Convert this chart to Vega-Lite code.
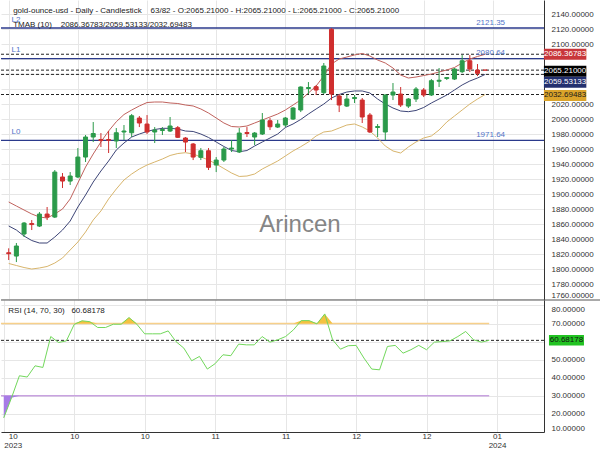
{
  "$schema": "https://vega.github.io/schema/vega-lite/v6.json",
  "padding": 0,
  "autosize": {"type": "pad"},
  "spacing": 0,
  "bounds": "flush",
  "config": {
    "view": {"stroke": null},
    "font": "Liberation Sans",
    "axis": {"labelFont": "Liberation Sans", "labelFontSize": 8, "labelColor": "#333333", "domainColor": "#333333", "gridColor": "#e6e6e6", "ticks": false}
  },
  "datasets": {
    "bars": [
      {"i":0,"d":"2023-10-05","o":1821.7,"h":1827.6,"l":1812.0,"c":1820.4,"up":1889.4,"mid":1857.4,"lo":1807.4,"rsi":17.8},
      {"i":1,"d":"2023-10-06","o":1817.3,"h":1834.7,"l":1809.3,"c":1830.7,"up":1884.0,"mid":1852.0,"lo":1804.7,"rsi":29.0},
      {"i":2,"d":"2023-10-09","o":1846.7,"h":1862.7,"l":1842.7,"c":1861.3,"up":1878.7,"mid":1844.0,"lo":1802.0,"rsi":41.1},
      {"i":3,"d":"2023-10-10","o":1860.7,"h":1865.3,"l":1852.0,"c":1859.3,"up":1873.4,"mid":1838.0,"lo":1800.0,"rsi":40.4},
      {"i":4,"d":"2023-10-11","o":1857.3,"h":1876.0,"l":1856.0,"c":1873.3,"up":1869.4,"mid":1834.7,"lo":1801.4,"rsi":46.6},
      {"i":5,"d":"2023-10-12","o":1873.3,"h":1882.7,"l":1865.3,"c":1869.3,"up":1868.0,"mid":1834.7,"lo":1803.4,"rsi":45.7},
      {"i":6,"d":"2023-10-13","o":1869.3,"h":1932.0,"l":1868.0,"c":1929.3,"up":1873.4,"mid":1842.7,"lo":1808.0,"rsi":62.8},
      {"i":7,"d":"2023-10-16","o":1922.7,"h":1928.0,"l":1908.0,"c":1917.3,"up":1880.0,"mid":1852.0,"lo":1814.7,"rsi":59.5},
      {"i":8,"d":"2023-10-17","o":1917.3,"h":1929.3,"l":1912.0,"c":1924.0,"up":1893.4,"mid":1864.0,"lo":1825.4,"rsi":60.4},
      {"i":9,"d":"2023-10-18","o":1922.7,"h":1961.3,"l":1921.3,"c":1949.3,"up":1914.7,"mid":1882.7,"lo":1836.0,"rsi":69.5},
      {"i":10,"d":"2023-10-19","o":1949.3,"h":1978.7,"l":1942.7,"c":1976.0,"up":1936.0,"mid":1898.7,"lo":1849.4,"rsi":71.5},
      {"i":11,"d":"2023-10-20","o":1976.0,"h":1996.0,"l":1969.3,"c":1980.7,"up":1953.4,"mid":1916.0,"lo":1865.4,"rsi":71.0},
      {"i":12,"d":"2023-10-23","o":1972.7,"h":1981.3,"l":1962.7,"c":1971.3,"up":1969.4,"mid":1930.7,"lo":1877.4,"rsi":67.8},
      {"i":13,"d":"2023-10-24","o":1972.7,"h":1984.0,"l":1954.7,"c":1971.6,"up":1984.0,"mid":1944.0,"lo":1893.4,"rsi":67.8},
      {"i":14,"d":"2023-10-25","o":1970.7,"h":1988.0,"l":1961.3,"c":1981.7,"up":1996.4,"mid":1958.7,"lo":1906.7,"rsi":69.6},
      {"i":15,"d":"2023-10-26","o":1982.7,"h":1992.0,"l":1972.0,"c":1984.0,"up":2006.0,"mid":1968.0,"lo":1918.7,"rsi":69.6},
      {"i":16,"d":"2023-10-27","o":1981.7,"h":2006.7,"l":1976.0,"c":2004.4,"up":2012.0,"mid":1976.0,"lo":1926.7,"rsi":73.3},
      {"i":17,"d":"2023-10-30","o":2001.3,"h":2004.0,"l":1989.3,"c":1994.7,"up":2017.4,"mid":1980.0,"lo":1933.4,"rsi":69.6},
      {"i":18,"d":"2023-10-31","o":1993.3,"h":2005.3,"l":1980.0,"c":1982.7,"up":2022.0,"mid":1983.4,"lo":1938.7,"rsi":64.3},
      {"i":19,"d":"2023-11-01","o":1982.7,"h":1989.3,"l":1968.0,"c":1985.3,"up":2022.7,"mid":1986.0,"lo":1942.7,"rsi":64.3},
      {"i":20,"d":"2023-11-02","o":1984.7,"h":1989.3,"l":1978.7,"c":1986.0,"up":2022.7,"mid":1987.6,"lo":1946.7,"rsi":64.3},
      {"i":21,"d":"2023-11-03","o":1984.0,"h":2002.7,"l":1982.7,"c":1990.7,"up":2021.4,"mid":1987.6,"lo":1951.4,"rsi":65.9},
      {"i":22,"d":"2023-11-06","o":1988.4,"h":1990.7,"l":1974.7,"c":1975.6,"up":2020.7,"mid":1986.7,"lo":1954.0,"rsi":60.0},
      {"i":23,"d":"2023-11-07","o":1974.7,"h":1976.0,"l":1956.0,"c":1969.3,"up":2018.7,"mid":1984.0,"lo":1955.1,"rsi":56.4},
      {"i":24,"d":"2023-11-08","o":1966.7,"h":1968.0,"l":1945.3,"c":1949.3,"up":2017.4,"mid":1983.4,"lo":1953.4,"rsi":49.4},
      {"i":25,"d":"2023-11-09","o":1948.9,"h":1961.3,"l":1945.3,"c":1957.7,"up":2013.4,"mid":1980.0,"lo":1949.4,"rsi":51.8},
      {"i":26,"d":"2023-11-10","o":1957.7,"h":1961.3,"l":1932.0,"c":1935.6,"up":2008.0,"mid":1975.4,"lo":1945.4,"rsi":44.8},
      {"i":27,"d":"2023-11-13","o":1938.7,"h":1949.3,"l":1929.3,"c":1945.3,"up":2001.4,"mid":1969.4,"lo":1940.0,"rsi":47.8},
      {"i":28,"d":"2023-11-14","o":1945.3,"h":1962.7,"l":1942.7,"c":1960.0,"up":1994.7,"mid":1963.4,"lo":1934.0,"rsi":52.7},
      {"i":29,"d":"2023-11-15","o":1960.0,"h":1972.0,"l":1956.0,"c":1961.3,"up":1990.0,"mid":1958.0,"lo":1928.0,"rsi":52.2},
      {"i":30,"d":"2023-11-16","o":1956.0,"h":1988.0,"l":1954.7,"c":1981.3,"up":1989.4,"mid":1956.4,"lo":1923.4,"rsi":58.6},
      {"i":31,"d":"2023-11-17","o":1982.0,"h":1989.3,"l":1976.0,"c":1980.7,"up":1990.7,"mid":1958.0,"lo":1924.0,"rsi":58.2},
      {"i":32,"d":"2023-11-20","o":1976.0,"h":1982.7,"l":1965.3,"c":1981.3,"up":1994.7,"mid":1964.0,"lo":1926.7,"rsi":58.2},
      {"i":33,"d":"2023-11-21","o":1980.0,"h":2008.0,"l":1978.7,"c":1998.7,"up":1998.7,"mid":1969.4,"lo":1933.4,"rsi":62.8},
      {"i":34,"d":"2023-11-22","o":1997.7,"h":2001.3,"l":1985.3,"c":1989.7,"up":2002.7,"mid":1974.7,"lo":1938.7,"rsi":59.7},
      {"i":35,"d":"2023-11-23","o":1989.3,"h":1998.7,"l":1988.0,"c":1993.3,"up":2006.7,"mid":1980.0,"lo":1944.0,"rsi":61.0},
      {"i":36,"d":"2023-11-24","o":1992.0,"h":2002.7,"l":1989.3,"c":2001.3,"up":2012.0,"mid":1988.7,"lo":1950.7,"rsi":62.8},
      {"i":37,"d":"2023-11-27","o":2000.0,"h":2016.0,"l":1998.7,"c":2014.7,"up":2018.7,"mid":1993.4,"lo":1957.4,"rsi":66.5},
      {"i":38,"d":"2023-11-28","o":2012.0,"h":2043.5,"l":2009.3,"c":2042.7,"up":2025.4,"mid":1999.4,"lo":1963.1,"rsi":71.6},
      {"i":39,"d":"2023-11-29","o":2040.7,"h":2049.3,"l":2033.3,"c":2042.0,"up":2034.7,"mid":2006.7,"lo":1969.4,"rsi":71.6},
      {"i":40,"d":"2023-11-30","o":2043.1,"h":2045.3,"l":2032.0,"c":2038.7,"up":2044.0,"mid":2013.4,"lo":1977.4,"rsi":69.8},
      {"i":41,"d":"2023-12-01","o":2035.1,"h":2074.7,"l":2033.3,"c":2070.7,"up":2057.4,"mid":2020.0,"lo":1982.7,"rsi":75.3},
      {"i":42,"d":"2023-12-04","o":2119.6,"h":2121.35,"l":2025.3,"c":2033.3,"up":2073.4,"mid":2028.0,"lo":1984.0,"rsi":61.0},
      {"i":43,"d":"2023-12-05","o":2030.7,"h":2033.3,"l":2009.3,"c":2018.7,"up":2080.0,"mid":2032.7,"lo":1988.0,"rsi":55.8},
      {"i":44,"d":"2023-12-06","o":2017.3,"h":2032.0,"l":2016.0,"c":2026.7,"up":2082.7,"mid":2036.0,"lo":1992.0,"rsi":57.7},
      {"i":45,"d":"2023-12-07","o":2027.3,"h":2032.0,"l":2021.3,"c":2028.7,"up":2085.4,"mid":2037.4,"lo":1993.4,"rsi":57.9},
      {"i":46,"d":"2023-12-08","o":2025.3,"h":2028.0,"l":1994.7,"c":2002.7,"up":2087.4,"mid":2037.4,"lo":1989.4,"rsi":50.9},
      {"i":47,"d":"2023-12-11","o":2005.3,"h":2008.0,"l":1981.3,"c":1982.7,"up":2084.0,"mid":2034.7,"lo":1984.0,"rsi":44.8},
      {"i":48,"d":"2023-12-12","o":1988.7,"h":1993.3,"l":1976.0,"c":1990.0,"up":2078.7,"mid":2026.7,"lo":1974.7,"rsi":44.4},
      {"i":49,"d":"2023-12-13","o":1982.7,"h":2033.0,"l":1971.64,"c":2032.0,"up":2074.7,"mid":2020.0,"lo":1964.0,"rsi":57.3},
      {"i":50,"d":"2023-12-14","o":2032.0,"h":2048.0,"l":2025.3,"c":2036.0,"up":2068.0,"mid":2014.7,"lo":1957.4,"rsi":57.9},
      {"i":51,"d":"2023-12-15","o":2033.3,"h":2042.7,"l":2016.0,"c":2018.7,"up":2058.7,"mid":2010.7,"lo":1954.7,"rsi":53.6},
      {"i":52,"d":"2023-12-18","o":2017.3,"h":2028.0,"l":2014.7,"c":2026.7,"up":2054.7,"mid":2009.8,"lo":1962.7,"rsi":55.5},
      {"i":53,"d":"2023-12-19","o":2026.7,"h":2042.7,"l":2022.7,"c":2040.0,"up":2056.0,"mid":2011.4,"lo":1969.4,"rsi":57.9},
      {"i":54,"d":"2023-12-20","o":2038.7,"h":2041.3,"l":2029.3,"c":2032.0,"up":2058.0,"mid":2015.4,"lo":1974.7,"rsi":55.5},
      {"i":55,"d":"2023-12-21","o":2032.0,"h":2053.3,"l":2030.7,"c":2051.1,"up":2060.0,"mid":2021.4,"lo":1977.4,"rsi":59.7},
      {"i":56,"d":"2023-12-22","o":2050.4,"h":2068.0,"l":2042.7,"c":2051.7,"up":2062.7,"mid":2026.7,"lo":1985.4,"rsi":60.0},
      {"i":57,"d":"2023-12-25","o":2054.0,"h":2056.0,"l":2052.0,"c":2055.3,"up":2065.4,"mid":2032.0,"lo":1996.0,"rsi":60.4},
      {"i":58,"d":"2023-12-26","o":2053.3,"h":2068.0,"l":2052.0,"c":2066.7,"up":2068.7,"mid":2038.7,"lo":2004.0,"rsi":62.8},
      {"i":59,"d":"2023-12-27","o":2063.1,"h":2085.3,"l":2061.3,"c":2077.7,"up":2074.7,"mid":2045.4,"lo":2012.0,"rsi":65.6},
      {"i":60,"d":"2023-12-28","o":2077.7,"h":2085.3,"l":2062.7,"c":2066.7,"up":2080.0,"mid":2050.7,"lo":2020.0,"rsi":61.0},
      {"i":61,"d":"2023-12-29","o":2065.3,"h":2073.3,"l":2057.3,"c":2060.9,"up":2083.4,"mid":2054.7,"lo":2026.7,"rsi":59.7},
      {"i":62,"d":"2024-01-01","o":2065.21,"h":2065.21,"l":2065.21,"c":2065.21,"up":2086.36783,"mid":2059.53133,"lo":2032.69483,"rsi":60.68178}
    ],
    "levels": [
      {"name": "L2", "v": 2121.35},
      {"name": "L1", "v": 2080.64},
      {"name": "L0", "v": 1971.64}
    ],
    "marks": [
      {"v": 2086.36783}, {"v": 2065.21}, {"v": 2059.53133}, {"v": 2032.69483}
    ],
    "tags": [
      {"k": "up", "t": "2086.36783", "p": 2086.4},
      {"k": "close", "t": "2065.21000", "p": 2063.8},
      {"k": "mid", "t": "2059.53133", "p": 2049.0},
      {"k": "lo", "t": "2032.69483", "p": 2031.5}
    ]
  },
  "vconcat": [
    {
      "width": 543,
      "height": 300,
      "resolve": {"axis": {"x": "independent", "y": "independent"}},
      "layer": [
        {
          "data": {"name": "levels"},
          "mark": {"type": "rule", "color": "#2b3a8c", "strokeWidth": 1.3},
          "encoding": {
            "y": {"field": "v", "type": "quantitative", "scale": {"domain": [1758.7, 2158.7], "nice": false, "zero": false}, "axis": null}
          }
        },
        {
          "data": {"name": "marks"},
          "mark": {"type": "rule", "color": "#222222", "strokeWidth": 1, "strokeDash": [3, 2]},
          "encoding": {
            "y": {"field": "v", "type": "quantitative", "scale": {"domain": [1758.7, 2158.7], "nice": false, "zero": false}, "axis": null}
          }
        },
        {
          "data": {"name": "bars"},
          "mark": {"type": "line", "color": "#c0625d", "strokeWidth": 1},
          "encoding": {
            "x": {"field": "i", "type": "quantitative", "title": null, "scale": {"domain": [-0.35, 69], "nice": false, "zero": false},
                  "axis": {"values": [0, 9, 18, 27, 36, 45, 54, 63], "labels": false, "ticks": false, "domain": false, "grid": true, "gridColor": "#e6e6e6"}},
            "y": {"field": "up", "type": "quantitative", "title": null, "scale": {"domain": [1758.7, 2158.7], "nice": false, "zero": false},
                  "axis": {"orient": "right", "values": [1760, 1780, 1800, 1820, 1840, 1860, 1880, 1900, 1920, 1940, 1960, 1980, 2000, 2020, 2040, 2060, 2080, 2100, 2120, 2140],
                           "format": ".5f", "grid": true, "gridColor": "#e6e6e6", "ticks": false, "domain": true, "domainColor": "#333333", "labelPadding": 7, "labelFlush": false, "labelOverlap": false,
                           "labelBaseline": {"condition": {"test": "datum.value == 1760", "value": "bottom"}, "value": "middle"},
                           "labelOpacity": {"condition": {"test": "datum.value >= 2030 && datum.value <= 2090", "value": 0}, "value": 1}}}
          }
        },
        {
          "data": {"name": "bars"},
          "mark": {"type": "line", "color": "#3d4577", "strokeWidth": 1},
          "encoding": {
            "x": {"field": "i", "type": "quantitative", "scale": {"domain": [-0.35, 69], "nice": false, "zero": false}, "axis": null},
            "y": {"field": "mid", "type": "quantitative", "scale": {"domain": [1758.7, 2158.7], "nice": false, "zero": false}, "axis": null}
          }
        },
        {
          "data": {"name": "bars"},
          "mark": {"type": "line", "color": "#d8b56c", "strokeWidth": 1},
          "encoding": {
            "x": {"field": "i", "type": "quantitative", "scale": {"domain": [-0.35, 69], "nice": false, "zero": false}, "axis": null},
            "y": {"field": "lo", "type": "quantitative", "scale": {"domain": [1758.7, 2158.7], "nice": false, "zero": false}, "axis": null}
          }
        },
        {
          "data": {"name": "bars"},
          "mark": {"type": "rule", "strokeWidth": 1},
          "encoding": {
            "x": {"field": "i", "type": "quantitative", "scale": {"domain": [-0.35, 69], "nice": false, "zero": false}, "axis": null},
            "y": {"field": "l", "type": "quantitative", "scale": {"domain": [1758.7, 2158.7], "nice": false, "zero": false}, "axis": null},
            "y2": {"field": "h"},
            "color": {"condition": {"test": "datum.c > datum.o", "value": "#2b9a4a"}, "value": "#cf2e2e"}
          }
        },
        {
          "data": {"name": "bars"},
          "mark": {"type": "bar", "width": 4, "strokeWidth": 1},
          "encoding": {
            "x": {"field": "i", "type": "quantitative", "scale": {"domain": [-0.35, 69], "nice": false, "zero": false}, "axis": null},
            "y": {"field": "o", "type": "quantitative", "scale": {"domain": [1758.7, 2158.7], "nice": false, "zero": false}, "axis": null},
            "y2": {"field": "c"},
            "color": {"condition": {"test": "datum.c > datum.o", "value": "#2b9a4a"}, "value": "#cf2e2e"},
            "stroke": {"condition": {"test": "datum.c > datum.o", "value": "#2b9a4a"}, "value": "#cf2e2e"}
          }
        },
        {
          "data": {"values": [{"t": "Arincen", "i": 37.9, "p": 1849.7}]},
          "mark": {"type": "text", "font": "Liberation Sans", "fontSize": 24, "color": "#858585", "align": "center", "baseline": "alphabetic"},
          "encoding": {
            "x": {"field": "i", "type": "quantitative", "scale": {"domain": [-0.35, 69], "nice": false, "zero": false}, "axis": null},
            "y": {"field": "p", "type": "quantitative", "scale": {"domain": [1758.7, 2158.7], "nice": false, "zero": false}, "axis": null},
            "text": {"field": "t"}
          }
        },
        {
          "data": {"values": [
            {"t": "gold-ounce-usd - Daily - Candlestick \u00a0\u00a0\u00a063/82 - O:2065.21000 - H:2065.21000 - L:2065.21000 - C:2065.21000", "i": 0.58, "p": 2144.5},
            {"t": "TMAB (10) \u00a0\u00a0\u00a02086.36783/2059.53133/2032.69483", "i": 0.58, "p": 2124.8}
          ]},
          "mark": {"type": "text", "font": "Liberation Sans", "fontSize": 8, "color": "#222222", "align": "left", "baseline": "middle"},
          "encoding": {
            "x": {"field": "i", "type": "quantitative", "scale": {"domain": [-0.35, 69], "nice": false, "zero": false}, "axis": null},
            "y": {"field": "p", "type": "quantitative", "scale": {"domain": [1758.7, 2158.7], "nice": false, "zero": false}, "axis": null},
            "text": {"field": "t"}
          }
        },
        {
          "data": {"name": "levels"},
          "mark": {"type": "text", "font": "Liberation Sans", "fontSize": 8, "color": "#5274c8", "align": "left", "baseline": "middle", "dy": -8.5},
          "encoding": {
            "x": {"datum": 0.38, "type": "quantitative", "scale": {"domain": [-0.35, 69], "nice": false, "zero": false}, "axis": null},
            "y": {"field": "v", "type": "quantitative", "scale": {"domain": [1758.7, 2158.7], "nice": false, "zero": false}, "axis": null},
            "text": {"field": "name"}
          }
        },
        {
          "data": {"name": "levels"},
          "mark": {"type": "text", "font": "Liberation Sans", "fontSize": 8, "color": "#5274c8", "align": "center", "baseline": "middle", "dy": -5.5},
          "encoding": {
            "x": {"datum": 62.7, "type": "quantitative", "scale": {"domain": [-0.35, 69], "nice": false, "zero": false}, "axis": null},
            "y": {"field": "v", "type": "quantitative", "scale": {"domain": [1758.7, 2158.7], "nice": false, "zero": false}, "axis": null},
            "text": {"field": "v", "format": ".2f"}
          }
        },
        {
          "data": {"name": "tags"},
          "mark": {"type": "point", "shape": "M-1,-0.26L1,-0.26L1,0.26L-1,0.26Z", "filled": true, "size": 1800, "opacity": 1, "strokeWidth": 0},
          "encoding": {
            "x": {"datum": 72.4, "type": "quantitative", "scale": {"domain": [-0.35, 69], "nice": false, "zero": false}, "axis": null},
            "y": {"field": "p", "type": "quantitative", "scale": {"domain": [1758.7, 2158.7], "nice": false, "zero": false}, "axis": null},
            "color": {"field": "k", "type": "nominal", "scale": {"domain": ["up", "close", "mid", "lo"], "range": ["#c8363a", "#000000", "#23306f", "#dba42a"]}, "legend": null}
          }
        },
        {
          "data": {"name": "tags"},
          "mark": {"type": "text", "font": "Liberation Sans", "fontSize": 8, "align": "center", "baseline": "middle"},
          "encoding": {
            "x": {"datum": 72.4, "type": "quantitative", "scale": {"domain": [-0.35, 69], "nice": false, "zero": false}, "axis": null},
            "y": {"field": "p", "type": "quantitative", "scale": {"domain": [1758.7, 2158.7], "nice": false, "zero": false}, "axis": null},
            "text": {"field": "t"},
            "color": {"condition": {"test": "datum.k == 'lo'", "value": "#1a1a1a"}, "value": "#ffffff"}
          }
        }
      ]
    },
    {
      "width": 543,
      "height": 132,
      "resolve": {"scale": {"y": "independent"}, "axis": {"x": "independent", "y": "independent"}},
      "layer": [
        {
          "data": {"name": "bars"},
          "mark": {"type": "line", "color": "#72d85c", "strokeWidth": 1, "opacity": 0},
          "encoding": {
            "x": {"field": "i", "type": "quantitative", "title": null, "scale": {"domain": [-0.35, 69], "nice": false, "zero": false},
                  "axis": {"values": [0, 9, 18, 27, 36, 45, 54, 63], "grid": true, "gridColor": "#e6e6e6", "domain": true, "domainColor": "#333333", "ticks": false,
                           "labelPadding": 0, "labelFlush": false, "labelOverlap": false, "labelLineHeight": 9, "labelAngle": 0,
                           "labelOffset": {"condition": {"test": "datum.value == 0", "value": 9}, "value": 0},
                           "labelExpr": "datum.value == 0 ? ['10', '2023'] : datum.value == 63 ? ['01', '2024'] : datum.value < 27 ? '10' : datum.value < 45 ? '11' : '12'"}},
            "y": {"field": "rsi", "type": "quantitative", "title": null, "scale": {"domain": [10, 83], "nice": false, "zero": false},
                  "axis": {"orient": "right", "values": [80, 70, 60, 50, 40, 30, 20, 10], "format": ".5f", "grid": true, "gridColor": "#e6e6e6", "ticks": false,
                           "domain": true, "domainColor": "#333333", "labelPadding": 7, "labelFlush": false, "labelOverlap": false, "labelBound": false,
                           "labelBaseline": {"condition": [{"test": "datum.value == 10", "value": "bottom"}, {"test": "datum.value == 80", "value": "top"}], "value": "middle"},
                           "labelOpacity": {"condition": {"test": "datum.value == 60", "value": 0}, "value": 1}}}
          }
        },
        {
          "data": {"values": [{"v": 70}]},
          "mark": {"type": "rule", "color": "#f7d08a", "strokeWidth": 1.5},
          "encoding": {
            "x": {"datum": -0.35, "type": "quantitative", "scale": {"domain": [-0.35, 69], "nice": false, "zero": false}, "axis": null},
            "x2": {"datum": 62},
            "y": {"field": "v", "type": "quantitative", "scale": {"domain": [10, 83], "nice": false, "zero": false}, "axis": null}
          }
        },
        {
          "data": {"values": [{"v": 30}]},
          "mark": {"type": "rule", "color": "#c8a2e0", "strokeWidth": 1.5},
          "encoding": {
            "x": {"datum": -0.35, "type": "quantitative", "scale": {"domain": [-0.35, 69], "nice": false, "zero": false}, "axis": null},
            "x2": {"datum": 62},
            "y": {"field": "v", "type": "quantitative", "scale": {"domain": [10, 83], "nice": false, "zero": false}, "axis": null}
          }
        },
        {
          "data": {"name": "bars"},
          "mark": {"type": "area", "color": "#f4c242", "opacity": 1},
          "encoding": {
            "x": {"field": "i", "type": "quantitative", "scale": {"domain": [-0.35, 69], "nice": false, "zero": false}, "axis": null},
            "y": {"field": "rsi", "type": "quantitative", "scale": {"domain": [70, 83], "range": [23.507, 0], "clamp": true, "nice": false, "zero": false}, "axis": null},
            "y2": {"datum": 70}
          }
        },
        {
          "data": {"name": "bars"},
          "mark": {"type": "area", "color": "#a77be6", "opacity": 1},
          "encoding": {
            "x": {"field": "i", "type": "quantitative", "scale": {"domain": [-0.35, 69], "nice": false, "zero": false}, "axis": null},
            "y": {"field": "rsi", "type": "quantitative", "scale": {"domain": [10, 30], "range": [132, 95.836], "clamp": true, "nice": false, "zero": false}, "axis": null},
            "y2": {"datum": 30}
          }
        },
        {
          "data": {"values": [{"v": 60.68178}]},
          "mark": {"type": "rule", "color": "#222222", "strokeWidth": 1, "strokeDash": [3, 2]},
          "encoding": {
            "y": {"field": "v", "type": "quantitative", "scale": {"domain": [10, 83], "nice": false, "zero": false}, "axis": null}
          }
        },
        {
          "data": {"name": "bars"},
          "mark": {"type": "line", "color": "#72d85c", "strokeWidth": 1},
          "encoding": {
            "x": {"field": "i", "type": "quantitative", "scale": {"domain": [-0.35, 69], "nice": false, "zero": false}, "axis": null},
            "y": {"field": "rsi", "type": "quantitative", "scale": {"domain": [10, 83], "nice": false, "zero": false}, "axis": null}
          }
        },
        {
          "data": {"values": [{"t": "RSI (14, 70, 30) \u00a0\u00a060.68178", "i": 0.58, "r": 76.9}]},
          "mark": {"type": "text", "font": "Liberation Sans", "fontSize": 8, "color": "#222222", "align": "left", "baseline": "middle"},
          "encoding": {
            "x": {"field": "i", "type": "quantitative", "scale": {"domain": [-0.35, 69], "nice": false, "zero": false}, "axis": null},
            "y": {"field": "r", "type": "quantitative", "scale": {"domain": [10, 83], "nice": false, "zero": false}, "axis": null},
            "text": {"field": "t"}
          }
        },
        {
          "data": {"values": [{"t": "60.68178", "r": 60.68178}]},
          "mark": {"type": "point", "shape": "M-1,-0.3L1,-0.3L1,0.3L-1,0.3Z", "filled": true, "size": 1225, "opacity": 1, "strokeWidth": 0, "color": "#22c322"},
          "encoding": {
            "x": {"datum": 71.87, "type": "quantitative", "scale": {"domain": [-0.35, 69], "nice": false, "zero": false}, "axis": null},
            "y": {"field": "r", "type": "quantitative", "scale": {"domain": [10, 83], "nice": false, "zero": false}, "axis": null}
          }
        },
        {
          "data": {"values": [{"t": "60.68178", "r": 60.68178}]},
          "mark": {"type": "text", "font": "Liberation Sans", "fontSize": 8, "color": "#111111", "align": "center", "baseline": "middle"},
          "encoding": {
            "x": {"datum": 71.87, "type": "quantitative", "scale": {"domain": [-0.35, 69], "nice": false, "zero": false}, "axis": null},
            "y": {"field": "r", "type": "quantitative", "scale": {"domain": [10, 83], "nice": false, "zero": false}, "axis": null},
            "text": {"field": "t"}
          }
        },
        {
          "data": {"values": [{"r": 83}]},
          "mark": {"type": "rule", "color": "#555555", "strokeWidth": 1},
          "encoding": {
            "x": {"datum": -0.35, "type": "quantitative", "scale": {"domain": [-0.35, 69], "nice": false, "zero": false}, "axis": null},
            "x2": {"datum": 76.3},
            "y": {"field": "r", "type": "quantitative", "scale": {"domain": [10, 83], "nice": false, "zero": false}, "axis": null}
          }
        }
      ]
    }
  ]
}
